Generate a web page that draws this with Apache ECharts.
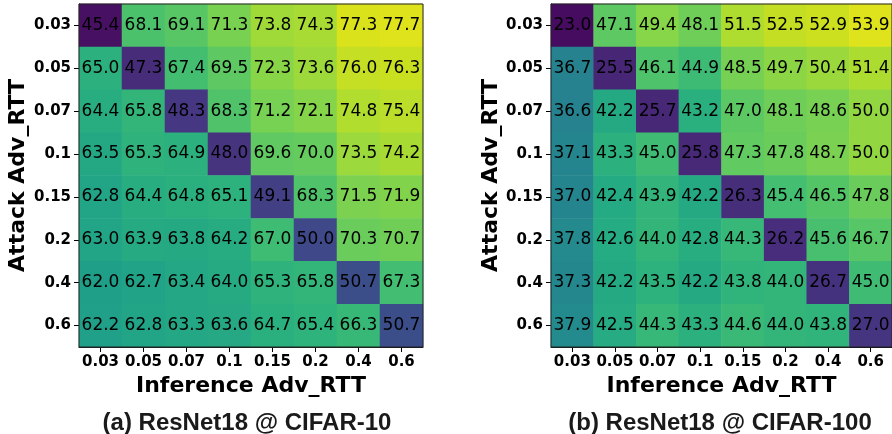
<!DOCTYPE html>
<html>
<head>
<meta charset="utf-8">
<script src="https://cdn.jsdelivr.net/npm/echarts@6/dist/echarts.min.js"></script>
<style>html,body{margin:0;padding:0;background:#fff;}#c{width:892px;height:434px;}</style>
</head>
<body>
<div id="c"></div>
<script>
const categories = ['0.03','0.05','0.07','0.1','0.15','0.2','0.4','0.6'];
// rows = Attack Adv_RTT (top to bottom), cols = Inference Adv_RTT
const cifar10 = [
  [45.4,68.1,69.1,71.3,73.8,74.3,77.3,77.7],
  [65.0,47.3,67.4,69.5,72.3,73.6,76.0,76.3],
  [64.4,65.8,48.3,68.3,71.2,72.1,74.8,75.4],
  [63.5,65.3,64.9,48.0,69.6,70.0,73.5,74.2],
  [62.8,64.4,64.8,65.1,49.1,68.3,71.5,71.9],
  [63.0,63.9,63.8,64.2,67.0,50.0,70.3,70.7],
  [62.0,62.7,63.4,64.0,65.3,65.8,50.7,67.3],
  [62.2,62.8,63.3,63.6,64.7,65.4,66.3,50.7]
];
const cifar100 = [
  [23.0,47.1,49.4,48.1,51.5,52.5,52.9,53.9],
  [36.7,25.5,46.1,44.9,48.5,49.7,50.4,51.4],
  [36.6,42.2,25.7,43.2,47.0,48.1,48.6,50.0],
  [37.1,43.3,45.0,25.8,47.3,47.8,48.7,50.0],
  [37.0,42.4,43.9,42.2,26.3,45.4,46.5,47.8],
  [37.8,42.6,44.0,42.8,44.3,26.2,45.6,46.7],
  [37.3,42.2,43.5,42.2,43.8,44.0,26.7,45.0],
  [37.9,42.5,44.3,43.3,44.6,44.0,43.8,27.0]
];
const titles = ['(a) ResNet18 @ CIFAR-10', '(b) ResNet18 @ CIFAR-100'];
const xName = 'Inference Adv_RTT';
const yName = 'Attack Adv_RTT';

const viridis = ['#440154','#48186a','#472d7b','#424086','#3b528b','#33638d','#2c728e','#26828e','#21918c',
  '#1fa088','#28ae80','#3fbc73','#5ec962','#84d44b','#addc30','#d8e219','#fde725'];
function hex2rgb(h){return [parseInt(h.substr(1,2),16),parseInt(h.substr(3,2),16),parseInt(h.substr(5,2),16)];}
function sample(t){
  t=Math.max(0,Math.min(1,t));
  const p=t*(viridis.length-1), i=Math.min(Math.floor(p),viridis.length-2), f=p-i;
  const a=hex2rgb(viridis[i]), b=hex2rgb(viridis[i+1]);
  return 'rgb('+a.map((x,k)=>Math.round(x+(b[k]-x)*f)).join(',')+')';
}
function ramp(lo,hi,g){
  const out=[];
  for(let k=0;k<=40;k++){const s=k/40; out.push(sample(lo+(hi-lo)*Math.pow(s,g)));}
  return out;
}
function toData(m){
  const out=[];
  m.forEach((row,r)=>row.forEach((v,c)=>out.push([c,r,v])));
  return out;
}
const f1=cifar10.flat(), f2=cifar100.flat();

const grids=[{left:79,top:4,width:344,height:343},{left:551,top:4,width:344,height:343}];
const chart=echarts.init(document.getElementById('c'));
const tickFont={fontFamily:'DejaVu Sans',fontWeight:'bold',fontSize:15,color:'#000'};
const nameFont={fontFamily:'DejaVu Sans',fontWeight:'bold',fontSize:22,color:'#000'};
function xAx(i){return {type:'category',gridIndex:i,data:categories,position:'bottom',
  axisLine:{show:true,lineStyle:{color:'#000',width:1}},axisTick:{show:true,alignWithLabel:true,interval:0,length:5,lineStyle:{color:'#000'}},
  axisLabel:Object.assign({margin:8,interval:0},tickFont),splitArea:{show:false},
  name:xName,nameLocation:'middle',nameGap:27,nameTextStyle:nameFont};}
function yAx(i,gap){return {type:'category',gridIndex:i,data:categories,inverse:true,
  axisLine:{show:true,lineStyle:{color:'#000',width:1}},axisTick:{show:true,alignWithLabel:true,interval:0,length:5,lineStyle:{color:'#000'}},
  axisLabel:Object.assign({margin:8,interval:0},tickFont),
  name:yName,nameLocation:'middle',nameGap:gap,nameRotate:90,nameTextStyle:nameFont};}
function series(i,m){return {type:'heatmap',xAxisIndex:i,yAxisIndex:i,data:toData(m),
  label:{show:true,fontFamily:'DejaVu Sans',fontSize:17,color:'#000',formatter:p=>p.value[2].toFixed(1)},
  itemStyle:{borderWidth:0},emphasis:{disabled:true}};}

chart.setOption({
  animation:false,
  title:[
    {text:titles[0],left:242,top:406,textAlign:'center',textStyle:{fontFamily:'Liberation Sans',fontWeight:'bold',fontSize:24,color:'#1a1a1a'}},
    {text:titles[1],left:715,top:406,textAlign:'center',textStyle:{fontFamily:'Liberation Sans',fontWeight:'bold',fontSize:24,color:'#1a1a1a'}}
  ],
  grid:grids.map(g=>Object.assign({show:true,borderColor:'#222',borderWidth:1,z:10,backgroundColor:'transparent'},g)),
  xAxis:[xAx(0),xAx(1)],
  yAxis:[yAx(0,50),yAx(1,48)],
  visualMap:[
    {type:'continuous',show:false,seriesIndex:0,min:Math.min(...f1),max:Math.max(...f1),dimension:2,inRange:{color:ramp(0.04,0.95,0.85)}},
    {type:'continuous',show:false,seriesIndex:1,min:Math.min(...f2),max:Math.max(...f2),dimension:2,inRange:{color:ramp(0.03,0.95,1)}}
  ],
  series:[series(0,cifar10),series(1,cifar100)]
});
</script>
</body>
</html>
